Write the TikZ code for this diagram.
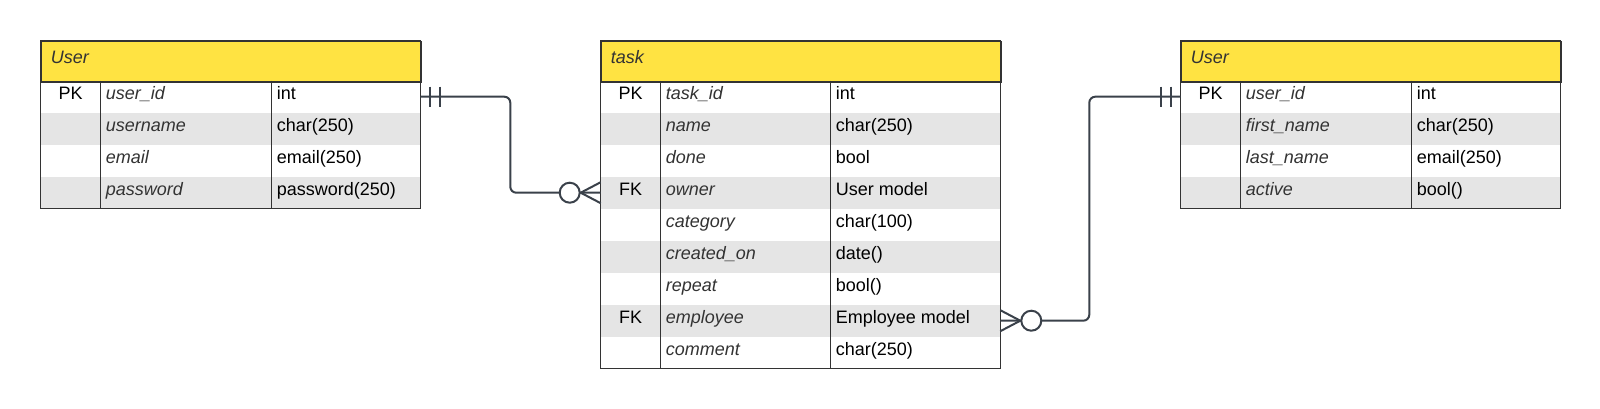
\documentclass[tikz,border=0pt]{standalone}
\usepackage{fontspec}
\setmainfont{Liberation Sans}
\definecolor{headyellow}{HTML}{FFE342}
\definecolor{rowgrey}{HTML}{E5E5E5}
\definecolor{edgegrey}{HTML}{333333}
\definecolor{linkgrey}{HTML}{3A414A}
\newcommand{\tabfont}{\fontsize{18}{22}\selectfont}
\begin{document}
\begin{tikzpicture}[x=1pt,y=-1pt,
  every node/.style={font=\tabfont},
  headbox/.style={draw=edgegrey, line width=1.3pt, fill=headyellow, anchor=north west, minimum height=40pt, inner sep=0pt},
  rowbox/.style={fill=#1, anchor=north west, minimum height=32pt, inner sep=0pt, outer sep=0pt},
  titletxt/.style={anchor=base west, font=\tabfont\itshape, text=edgegrey, inner sep=0pt},
  keytxt/.style={anchor=base, text=black, inner sep=0pt},
  fieldtxt/.style={anchor=base west, font=\tabfont\itshape, text=edgegrey, inner sep=0pt},
  typetxt/.style={anchor=base west, text=black, inner sep=0pt},
  tabline/.style={draw=edgegrey, line width=1.3pt},
  link/.style={draw=linkgrey, line width=2pt}]
\useasboundingbox (0,0) rectangle (1600,408);

% left table
\node[headbox, minimum width=379.6pt] (uhead) at (40.7,40.7) {};
\node[titletxt] (utitle) at (50.7,63.7) {User};
\foreach \r/\bg/\kk/\fname/\ftype in {1/white/PK/user\_id/int, 2/rowgrey//username/char(250),
  3/white//email/email(250), 4/rowgrey//password/password(250)}
{
\node[rowbox=\bg, minimum width=379.6pt] (u\r) at (40.7,{80.7+32*(\r-1)}) {};
\node[keytxt] (uk\r) at (70.7,{80.7+32*\r-13.2}) {\kk};
\node[fieldtxt] (uf\r) at (105.7,{80.7+32*\r-13.2}) {\fname};
\node[typetxt] (ut\r) at (276.7,{80.7+32*\r-13.2}) {\ftype};
}
\draw[tabline] (uhead.north west) rectangle (u4.south east);
\draw[tabline] (uhead.south west) -- (uhead.south east);
\foreach \x in {100.7,271.7} % column lines
\draw[tabline] (\x,80.7) -- (\x,208.7);

% middle table
\node[headbox, minimum width=399.6pt] (thead) at (600.7,40.7) {};
\node[titletxt] (ttitle) at (610.7,63.7) {task};
\foreach \r/\bg/\kk/\fname/\ftype in {1/white/PK/task\_id/int, 2/rowgrey//name/char(250),
  3/white//done/bool, 4/rowgrey/FK/owner/User model, 5/white//category/char(100),
  6/rowgrey//created\_on/date(), 7/white//repeat/bool(), 8/rowgrey/FK/employee/Employee model,
  9/white//comment/char(250)}
{
\node[rowbox=\bg, minimum width=399.6pt] (t\r) at (600.7,{80.7+32*(\r-1)}) {};
\node[keytxt] (tk\r) at (630.7,{80.7+32*\r-13.2}) {\kk};
\node[fieldtxt] (tf\r) at (665.7,{80.7+32*\r-13.2}) {\fname};
\node[typetxt] (tt\r) at (835.7,{80.7+32*\r-13.2}) {\ftype};
}
\draw[tabline] (thead.north west) rectangle (t9.south east);
\draw[tabline] (thead.south west) -- (thead.south east);
\foreach \x in {660.7,830.7} % column lines
\draw[tabline] (\x,80.7) -- (\x,368.7);

% right table
\node[headbox, minimum width=379.6pt] (rhead) at (1180.7,40.7) {};
\node[titletxt] (rtitle) at (1190.7,63.7) {User};
\foreach \r/\bg/\kk/\fname/\ftype in {1/white/PK/user\_id/int, 2/rowgrey//first\_name/char(250),
  3/white//last\_name/email(250), 4/rowgrey//active/bool()}
{
\node[rowbox=\bg, minimum width=379.6pt] (r\r) at (1180.7,{80.7+32*(\r-1)}) {};
\node[keytxt] (rk\r) at (1210.7,{80.7+32*\r-13.2}) {\kk};
\node[fieldtxt] (rf\r) at (1245.7,{80.7+32*\r-13.2}) {\fname};
\node[typetxt] (rt\r) at (1416.7,{80.7+32*\r-13.2}) {\ftype};
}
\draw[tabline] (rhead.north west) rectangle (r4.south east);
\draw[tabline] (rhead.south west) -- (rhead.south east);
\foreach \x in {1240.7,1411.7} % column lines
\draw[tabline] (\x,80.7) -- (\x,208.7);

% user -> task.owner
\draw[link, rounded corners=6pt] (u1.east) -- ++(90,0) |- (t4.west);
\foreach \d in {10,20}
\draw[link] ([xshift=\d pt]u1.east) ++(0,-10) -- ++(0,20);
\draw[link] ([yshift=10.5pt]t4.west) -- ([xshift=-20pt]t4.west) -- ([yshift=-10.5pt]t4.west);
\draw[link, fill=white] ([xshift=-31pt]t4.west) circle[radius=10pt];

% task.employee -> user
\draw[link, rounded corners=6pt] (t8.east) -- ++(89,0) |- (r1.west);
\foreach \d in {10,20}
\draw[link] ([xshift=-\d pt]r1.west) ++(0,-10) -- ++(0,20);
\draw[link] ([yshift=10.5pt]t8.east) -- ([xshift=20pt]t8.east) -- ([yshift=-10.5pt]t8.east);
\draw[link, fill=white] ([xshift=31pt]t8.east) circle[radius=10pt];
\end{tikzpicture}
\end{document}
